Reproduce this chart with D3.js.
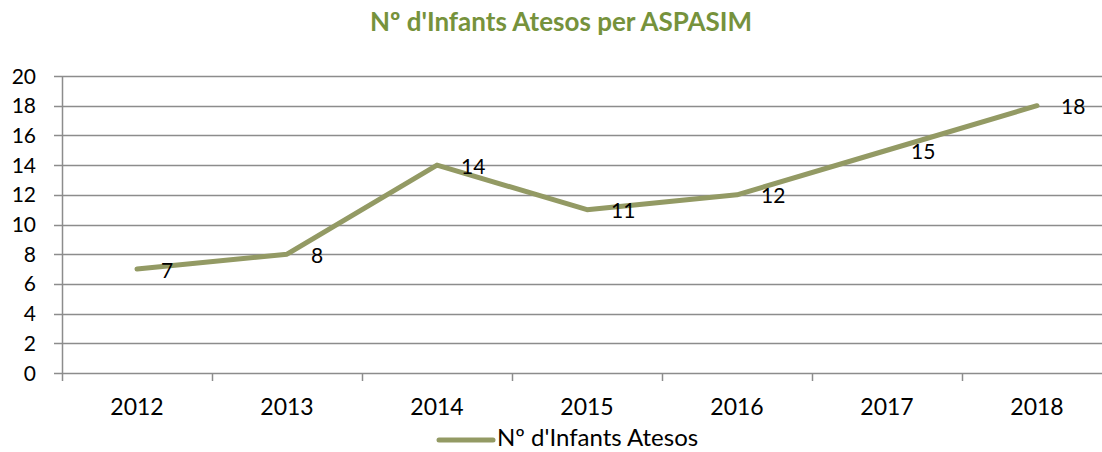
<!DOCTYPE html>
<html>
<head>
<meta charset="utf-8">
<script src="https://cdn.jsdelivr.net/npm/d3@7"></script>
<style>
  body { margin: 0; background: #fff; }
  text { font-family: Lato, "Open Sans", sans-serif; }
</style>
</head>
<body>
<svg width="1102" height="452"></svg>
<script>
// chart data
const years = ["2012", "2013", "2014", "2015", "2016", "2017", "2018"];
const infants = [7, 8, 14, 11, 12, 15, 18];
const yTicks = [0, 2, 4, 6, 8, 10, 12, 14, 16, 18, 20];

const titleText = "Nº d'Infants Atesos per ASPASIM";
const seriesName = "Nº d'Infants Atesos";

const lineColor = "#939a64";
const gridColor = "#8c8c8c";

const svg = d3.select("svg");

const x = d3.scaleBand().domain(years).range([62, 1112]);
const y = d3.scaleLinear().domain([0, 20]).range([373, 76]);

// title
svg.append("text")
    .attr("x", 561)
    .attr("y", 31)
    .attr("text-anchor", "middle")
    .attr("font-weight", "bold")
    .attr("font-size", 26)
    .attr("fill", "#76923c")
    .text(titleText);

// horizontal gridlines
svg.append("g")
    .selectAll("line")
    .data(yTicks)
    .join("line")
    .attr("x1", 54)
    .attr("x2", 1112)
    .attr("y1", d => Math.round(y(d)) + 0.5)
    .attr("y2", d => Math.round(y(d)) + 0.5)
    .attr("stroke", gridColor)
    .attr("stroke-width", 1.5);

// y axis line
svg.append("line")
    .attr("x1", 62.5).attr("x2", 62.5)
    .attr("y1", y(20)).attr("y2", 381)
    .attr("stroke", gridColor)
    .attr("stroke-width", 1.5);

// x tick marks at category boundaries
svg.append("g")
    .selectAll("line")
    .data(years.slice(1))
    .join("line")
    .attr("x1", d => Math.round(x(d)) + 0.5)
    .attr("x2", d => Math.round(x(d)) + 0.5)
    .attr("y1", y(0))
    .attr("y2", 381)
    .attr("stroke", gridColor)
    .attr("stroke-width", 1.5);

// y tick labels
svg.append("g")
    .selectAll("text")
    .data(yTicks)
    .join("text")
    .attr("x", 36)
    .attr("y", d => y(d))
    .attr("dy", "0.36em")
    .attr("text-anchor", "end")
    .attr("font-size", 21)
    .attr("fill", "#000")
    .text(d => d);

// x tick labels
svg.append("g")
    .selectAll("text")
    .data(years)
    .join("text")
    .attr("x", d => x(d) + x.bandwidth() / 2)
    .attr("y", 407)
    .attr("dy", "0.36em")
    .attr("text-anchor", "middle")
    .attr("font-size", 23)
    .attr("fill", "#000")
    .text(d => d);

// the line
const line = d3.line()
    .x((d, i) => x(years[i]) + x.bandwidth() / 2)
    .y(d => y(d));

svg.append("path")
    .datum(infants)
    .attr("d", line)
    .attr("fill", "none")
    .attr("stroke", lineColor)
    .attr("stroke-width", 5)
    .attr("stroke-linejoin", "round")
    .attr("stroke-linecap", "round");

// data labels (right of point)
svg.append("g")
    .selectAll("text")
    .data(infants)
    .join("text")
    .attr("x", (d, i) => x(years[i]) + x.bandwidth() / 2 + 24)
    .attr("y", d => y(d) + 1)
    .attr("dy", "0.36em")
    .attr("font-size", 21)
    .attr("fill", "#000")
    .text(d => d);

// legend
svg.append("line")
    .attr("x1", 439).attr("x2", 493)
    .attr("y1", 440).attr("y2", 440)
    .attr("stroke", lineColor)
    .attr("stroke-width", 5)
    .attr("stroke-linecap", "round");

svg.append("text")
    .attr("x", 497)
    .attr("y", 446)
    .attr("font-size", 24)
    .attr("fill", "#000")
    .text(seriesName);
</script>
</body>
</html>
